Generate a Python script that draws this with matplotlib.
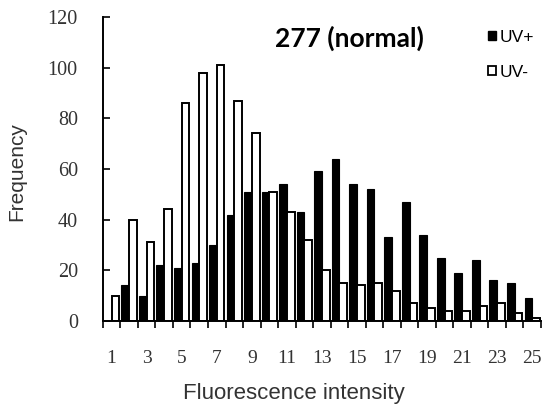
import numpy as np
import matplotlib
matplotlib.use("Agg")
import matplotlib.pyplot as plt
from matplotlib.patches import Patch

# Histogram counts
intensity = list(range(1, 26))
uv_plus = [0, 14, 10, 22, 21, 23, 30, 42, 51, 51, 54, 43, 59, 64, 54, 52, 33, 47, 34, 25, 19, 24, 16, 15, 9]
uv_minus = [10, 40, 31, 44, 86, 98, 101, 87, 74, 51, 43, 32, 20, 15, 14, 15, 12, 7, 5, 4, 4, 6, 7, 3, 1]
tick_labels = [str(i) if i % 2 == 1 else "" for i in intensity]

x = np.array(intensity)
w = 0.44

fig = plt.figure(figsize=(5.47, 4.13), dpi=100)
ax = fig.add_axes([0.188, 0.223, 0.801, 0.736])

ax.bar(x - w / 2, uv_plus, width=w, color="black", edgecolor="black", linewidth=0.8, label="UV+")
ax.bar(x + w / 2, uv_minus, width=w, color="white", edgecolor="black", linewidth=1.4, label="UV-")

ax.set_xlim(0.5, 25.5)
ax.set_ylim(0, 120)
ax.set_yticks(range(0, 121, 20))
ax.set_xticks(x)
ax.set_xticklabels(tick_labels, family="Liberation Serif", fontsize=14, color="#333333")
ax.set_xticks(np.arange(0.5, 26, 1), minor=True)
ax.tick_params(axis="x", which="major", length=0, pad=21)
ax.tick_params(axis="x", which="minor", length=5, width=1.2, direction="out")
ax.tick_params(axis="y", length=5, width=1.2, direction="in", pad=18, labelsize=14.5)
for lab in ax.get_yticklabels():
    lab.set_family("Liberation Serif")
    lab.set_color("#333333")

for s in ["top", "right"]:
    ax.spines[s].set_visible(False)
ax.spines["left"].set_linewidth(1.4)
ax.spines["bottom"].set_linewidth(1.4)

ax.set_xlabel("Fluorescence intensity", family="Liberation Sans", fontsize=16, color="#333333")
ax.xaxis.set_label_coords(0.437, -0.205)
ax.set_ylabel("Frequency", family="Liberation Sans", fontsize=15, color="#333333")
ax.yaxis.set_label_coords(-0.175, 0.49)

fig.text(0.639, 0.908, "277 (normal)", family="Lato", fontweight="bold", fontsize=19, ha="center", va="center")

handles = [Patch(facecolor="black", edgecolor="black", label="UV+"),
           Patch(facecolor="white", edgecolor="black", linewidth=1.3, label="UV-")]
fig.legend(handles=handles, loc="upper left", bbox_to_anchor=(0.892, 0.928), frameon=False,
           prop={"family": "Liberation Sans", "size": 12.5}, handlelength=0.45, handleheight=0.45,
           handletextpad=0.2, labelspacing=1.15, borderaxespad=0, borderpad=0)

fig.savefig("out.png", dpi=100)
